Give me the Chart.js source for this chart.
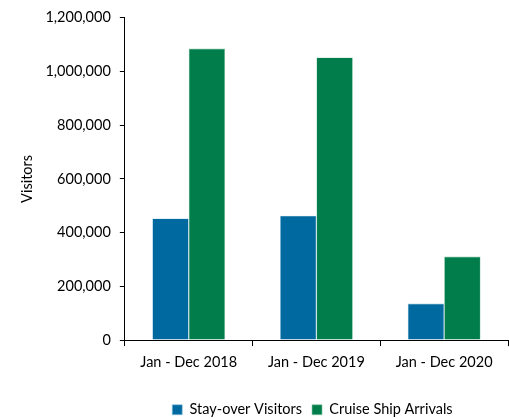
<!DOCTYPE html>
<html>
<head>
<meta charset="utf-8">
<script src="https://cdn.jsdelivr.net/npm/chart.js@4/dist/chart.umd.min.js"></script>
<style>
  html, body { margin: 0; padding: 0; background: #fff; }
  #wrap { width: 509px; height: 419px; position: relative; }
</style>
</head>
<body>
<div id="wrap"><canvas id="c"></canvas></div>
<script>
// Visitor arrivals by year
const categories = ['Jan - Dec 2018', 'Jan - Dec 2019', 'Jan - Dec 2020'];
const stayOver = [453000, 463000, 136000];
const cruise = [1085000, 1052000, 311000];
const seriesNames = ['Stay-over Visitors', 'Cruise Ship Arrivals'];

const FONT = 'Lato, "Liberation Sans", sans-serif';
const FS = 14.5;

// Centre the legend under the plot area rather than the whole canvas
const legendUnderPlot = {
  id: 'legendUnderPlot',
  afterLayout(chart) {
    const lg = chart.legend;
    const area = chart.chartArea;
    const shift = (area.left + area.right) / 2 - (lg.left + lg.right) / 2 - 4;
    lg.left += shift;
    lg.right += shift;
  }
};

new Chart(document.getElementById('c'), {
  type: 'bar',
  data: {
    labels: categories,
    datasets: [
      { label: seriesNames[0], data: stayOver, backgroundColor: '#006aa0', borderColor: '#8fc3dd', borderWidth: 0.6 },
      { label: seriesNames[1], data: cruise, backgroundColor: '#007d4b', borderColor: '#86c7a5', borderWidth: 0.6 }
    ]
  },
  plugins: [legendUnderPlot],
  options: {
    responsive: true,
    maintainAspectRatio: false,
    animation: false,
    layout: { padding: { top: 5, right: 1, left: 19, bottom: -8 } },
    datasets: { bar: { barPercentage: 1, categoryPercentage: 0.57 } },
    plugins: {
      legend: {
        position: 'bottom',
        labels: { font: { family: FONT, size: FS }, color: '#000', boxWidth: 10, boxHeight: 10, padding: 10 }
      },
      tooltip: { enabled: false }
    },
    scales: {
      x: {
        grid: { display: true, drawOnChartArea: false, drawTicks: true, tickLength: 6, color: '#000', offset: true },
        border: { color: '#000', width: 1 },
        ticks: { font: { family: FONT, size: FS }, color: '#000', padding: 8 },
        // leave room between the category labels and the legend
        afterFit: scale => { scale.height += 13; }
      },
      y: {
        min: 0, max: 1200000,
        grid: { display: true, drawOnChartArea: false, drawTicks: true, tickLength: 5, color: '#000' },
        border: { color: '#000', width: 1 },
        ticks: {
          stepSize: 200000,
          font: { family: FONT, size: FS }, color: '#000', padding: 9,
          callback: v => v.toLocaleString('en-US')
        },
        title: { display: true, text: 'Visitors', font: { family: FONT, size: FS }, color: '#000', padding: { top: 0, bottom: 0 } }
      }
    }
  }
});
</script>
</body>
</html>
